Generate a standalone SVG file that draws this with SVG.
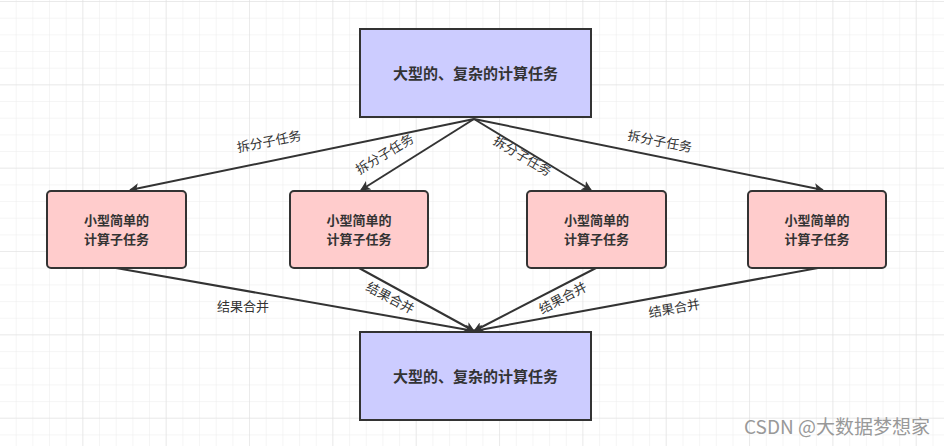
<svg xmlns="http://www.w3.org/2000/svg" width="944" height="446" viewBox="0 0 944 446">
<defs>
<pattern id="g" width="16.67" height="16.67" patternUnits="userSpaceOnUse" x="0" y="2"><path d="M16.67 0V16.67M0 16.67H16.67" fill="none" stroke="#ececec" stroke-width="1"/></pattern>
<pattern id="G" width="83.33" height="83.33" patternUnits="userSpaceOnUse" x="0" y="2"><path d="M83.33 0V83.33M0 83.33H83.33" fill="none" stroke="#e0e0e0" stroke-width="1"/></pattern>
<marker id="a" viewBox="0 0 10 10" refX="9" refY="5" markerWidth="5" markerHeight="5" orient="auto"><path d="M0 0L10 5L0 10L2.5 5Z" fill="#333"/></marker>
<style>
.big{fill:#ccccff;stroke:#333;stroke-width:2}
.sm{fill:#ffcccc;stroke:#333;stroke-width:2}
.t{font-family:"Noto Sans CJK SC",sans-serif;font-weight:bold;fill:#333;text-anchor:middle}
.l{font-family:"Noto Sans CJK SC",sans-serif;font-size:13px;fill:#333;text-anchor:middle}
#c path{fill:none;stroke:#333;stroke-width:2;marker-end:url(#a)}
</style>
</defs>
<rect width="944" height="446" fill="#fff"/>
<rect width="944" height="446" fill="url(#g)"/>
<rect width="944" height="446" fill="url(#G)"/>
<g id="c">
<path d="M474 119L130 190"/><path d="M474 119L361 190"/><path d="M474 119L591 190"/><path d="M474 119L823 190"/>
<path d="M116 268L474 331"/><path d="M359 268L474 331"/><path d="M596 268L474 331"/><path d="M818 268L474 331"/>
<text class="l" transform="translate(270,146) rotate(-11)">拆分子任务</text>
<text class="l" transform="translate(387,158) rotate(-31)">拆分子任务</text>
<text class="l" transform="translate(520,160) rotate(31)">拆分子任务</text>
<text class="l" transform="translate(659,146) rotate(11)">拆分子任务</text>
<text class="l" transform="translate(243,311)">结果合并</text>
<text class="l" transform="translate(388,302) rotate(28)">结果合并</text>
<text class="l" transform="translate(565,302) rotate(-28)">结果合并</text>
<text class="l" transform="translate(675,313) rotate(-10)">结果合并</text>
</g>
<g id="top"><rect class="big" x="360" y="29" width="231" height="88"/><text class="t" x="475.5" y="79" font-size="15">大型的、复杂的计算任务</text></g>
<g id="bottom"><rect class="big" x="360" y="332" width="231" height="88"/><text class="t" x="475.5" y="382" font-size="15">大型的、复杂的计算任务</text></g>
<g id="s1"><rect class="sm" x="47" y="191" width="139" height="77" rx="4"/><text class="t" x="116.5" y="225" font-size="13">小型简单的</text><text class="t" x="116.5" y="244" font-size="13">计算子任务</text></g>
<g id="s2"><rect class="sm" x="290" y="191" width="138" height="77" rx="4"/><text class="t" x="359" y="225" font-size="13">小型简单的</text><text class="t" x="359" y="244" font-size="13">计算子任务</text></g>
<g id="s3"><rect class="sm" x="527" y="191" width="139" height="77" rx="4"/><text class="t" x="596.5" y="225" font-size="13">小型简单的</text><text class="t" x="596.5" y="244" font-size="13">计算子任务</text></g>
<g id="s4"><rect class="sm" x="748" y="191" width="138" height="77" rx="4"/><text class="t" x="817" y="225" font-size="13">小型简单的</text><text class="t" x="817" y="244" font-size="13">计算子任务</text></g>
<text x="930" y="434" font-family="'Noto Sans CJK SC',sans-serif" font-size="19" fill="#999" text-anchor="end">CSDN @大数据梦想家</text>
</svg>
